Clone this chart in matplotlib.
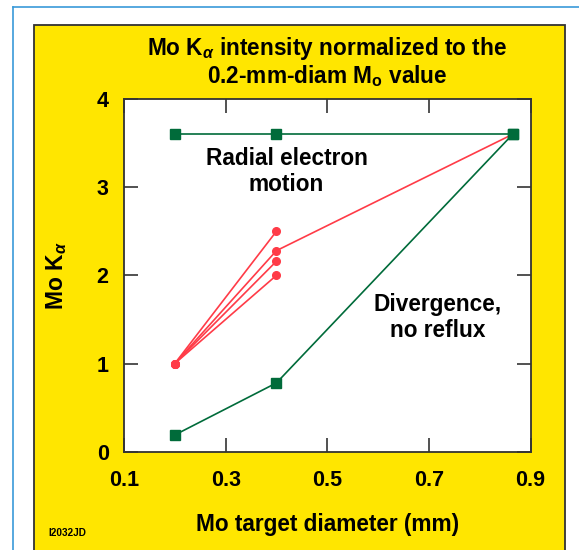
import matplotlib.pyplot as plt
from matplotlib.patches import Rectangle
from matplotlib.lines import Line2D

plt.rcParams['font.family'] = ['Liberation Sans', 'DejaVu Sans']
plt.rcParams['font.weight'] = 'bold'
plt.rcParams['mathtext.fontset'] = 'custom'
plt.rcParams['mathtext.rm'] = 'Liberation Sans:bold'
plt.rcParams['mathtext.it'] = 'Liberation Sans:italic'

# ================= 数据 =================
# 径向电子运动（上方水平线）
radial_x = [0.2, 0.4, 0.865]
radial_y = [3.6, 3.6, 3.6]

# 发散、无回流（下方曲线）
diverg_x = [0.2, 0.4, 0.865]
diverg_y = [0.19, 0.78, 3.6]

# 红色扇形线：从 (0.2, 1.0) 到 0.4 处的四个点
red_start = (0.2, 1.0)
red_x_end = 0.4
red_y_end = [2.5, 2.28, 2.16, 2.0]
# 其中一条继续到最大直径
red_tail_x = [0.4, 0.865]
red_tail_y = [2.28, 3.6]

x_ticks = [0.1, 0.3, 0.5, 0.7, 0.9]
x_labels = ["0.1", "0.3", "0.5", "0.7", "0.9"]
y_ticks = [0, 1, 2, 3, 4]

W, H = 579, 550
yellow = '#FFE600'
green = '#006B3A'
red = '#FF3B47'

fig = plt.figure(figsize=(W / 100, H / 100), dpi=100)
fig.patch.set_facecolor('white')

# 蓝色外框
fig.add_artist(Line2D([13 / W, 1], [1 - 7 / H, 1 - 7 / H], color='#3A9AD9', lw=1.2))
fig.add_artist(Line2D([13 / W, 13 / W], [0, 1 - 7 / H], color='#3A9AD9', lw=1.2))

# 黄色面板
fig.add_artist(Rectangle((34 / W, -0.02), (565 - 34) / W, 1.02 - 25 / H,
                         facecolor=yellow, edgecolor='#333333', lw=1.3,
                         transform=fig.transFigure, zorder=0))

ax = fig.add_axes([124 / W, (H - 451.7) / H, (530.5 - 124) / W, (451.7 - 99) / H])
ax.set_facecolor('white')

ax.plot(radial_x, radial_y, color=green, lw=1.2, marker='s', markersize=7,
        markeredgecolor=green, zorder=4)
ax.plot(diverg_x, diverg_y, color=green, lw=1.2, marker='s', markersize=7,
        markeredgecolor=green, zorder=4)

for ye in red_y_end:
    ax.plot([red_start[0], red_x_end], [red_start[1], ye], color=red, lw=1.2,
            marker='o', markersize=5.5, zorder=3)
ax.plot(red_tail_x, red_tail_y, color=red, lw=1.2, zorder=3)

ax.set_xlim(0.1, 0.9)
ax.set_ylim(0, 4)
ax.set_xticks(x_ticks)
ax.set_xticklabels(x_labels)
ax.set_yticks(y_ticks)
ax.tick_params(direction='in', length=10, width=1.2, color='#333333',
               top=True, right=True, labelsize=15.5, pad=11)
ax.tick_params(axis='x', pad=13)
for s in ax.spines.values():
    s.set_color('#333333')
    s.set_linewidth(1.3)

ax.set_xlabel("Mo target diameter (mm)", fontsize=16.3, fontweight='bold', labelpad=16)
ax.set_ylabel(r"Mo K$_{\alpha}$", fontsize=16.5, fontweight='bold', labelpad=20)

fig.text(0.5 * (124 + 530.5) / W, 1 - 62 / H,
         "Mo K$_{\\alpha}$ intensity normalized to the\n0.2-mm-diam M$_\\mathrm{o}$ value",
         ha='center', va='center', fontsize=16.3, fontweight='bold', linespacing=1.05)

ax.text(0.42, 3.18, "Radial electron\nmotion", ha='center', va='center',
        fontsize=16.3, fontweight='bold', linespacing=1.2)
ax.text(0.718, 1.52, "Divergence,\nno reflux", ha='center', va='center',
        fontsize=16.3, fontweight='bold', linespacing=1.2)

fig.text(48 / W, 1 - 533 / H, "I2032JD", fontsize=7.2, fontweight='bold',
         ha='left', va='center')

fig.savefig("out.png", dpi=100)
